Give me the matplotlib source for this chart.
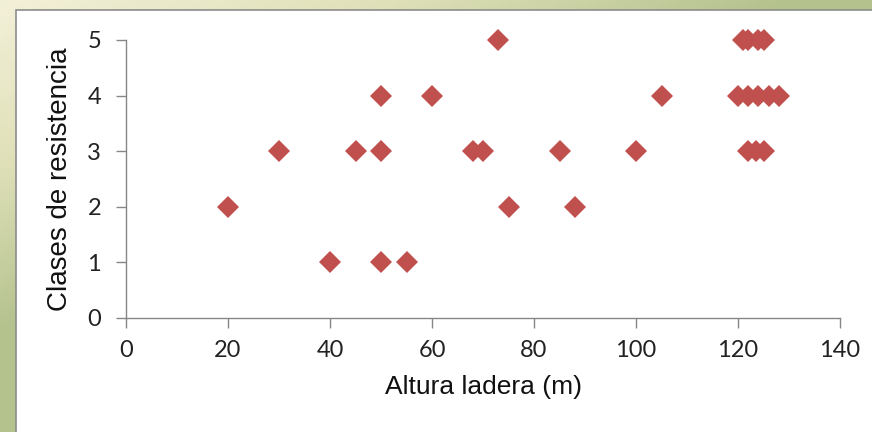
import matplotlib
matplotlib.use("Agg")
import matplotlib.pyplot as plt
import numpy as np
from matplotlib.colors import LinearSegmentedColormap
from matplotlib.patches import Rectangle

# Data
altura = [20, 30, 40, 45, 50, 50, 50, 55, 60, 68, 70, 73, 75, 85, 88, 100, 105,
          120, 121, 122, 122, 122, 123.5, 124, 124, 125, 125, 126, 128]
clases = [2, 3, 1, 3, 4, 3, 1, 1, 4, 3, 3, 5, 2, 3, 2, 3, 4,
          4, 5, 4, 3, 5, 3, 5, 4, 5, 3, 4, 4]

x_ticks = [0, 20, 40, 60, 80, 100, 120, 140]
y_ticks = [0, 1, 2, 3, 4, 5]

fig = plt.figure(figsize=(8.72, 4.32), dpi=100)

# Green gradient frame behind the white chart area
bg = fig.add_axes([0, 0, 1, 1], zorder=-10)
gx, gy = np.meshgrid(np.linspace(0, 1, 200), np.linspace(0, 1, 100))
grad = np.clip(gx * 1.1 + gy * 1.3, 0, 1)
cmap = LinearSegmentedColormap.from_list("frame", ["#f3f0d8", "#dfe0b8", "#b4c28e"])
bg.imshow(grad, cmap=cmap, aspect="auto", extent=[0, 1, 1, 0])
bg.add_patch(Rectangle((16 / 872, -0.1), 1, 1.1 - 10 / 432, transform=bg.transAxes,
                       facecolor="white", edgecolor="#8c8c8c", linewidth=1.2))
bg.set_xlim(0, 1)
bg.set_ylim(1, 0)
bg.axis("off")

ax = fig.add_axes([126 / 872, 114 / 432, 714 / 872, 278 / 432])
ax.patch.set_alpha(0)
ax.plot(altura, clases, linestyle="none", marker="D", markersize=11.5,
        color="#c0504d", markeredgewidth=0, clip_on=False)

ax.set_xlim(0, 140)
ax.set_ylim(0, 5)
ax.set_xticks(x_ticks)
ax.set_yticks(y_ticks)

for side in ["top", "right"]:
    ax.spines[side].set_visible(False)
for side in ["left", "bottom"]:
    ax.spines[side].set_color("#868686")
    ax.spines[side].set_linewidth(1.0)

ax.tick_params(axis="both", colors="#868686", length=7, width=1.0,
               labelcolor="#222222", labelsize=17)
ax.tick_params(axis="x", pad=9)
ax.tick_params(axis="y", pad=11)
for lbl in ax.get_xticklabels() + ax.get_yticklabels():
    lbl.set_fontfamily("Lato")

ax.set_xlabel("Altura ladera (m)", fontsize=19, family="Liberation Sans",
              color="#111111", labelpad=10)
ax.set_ylabel("Clases de resistencia", fontsize=20, family="Liberation Sans",
              color="#111111", labelpad=10)

fig.savefig("out.png", dpi=100)
